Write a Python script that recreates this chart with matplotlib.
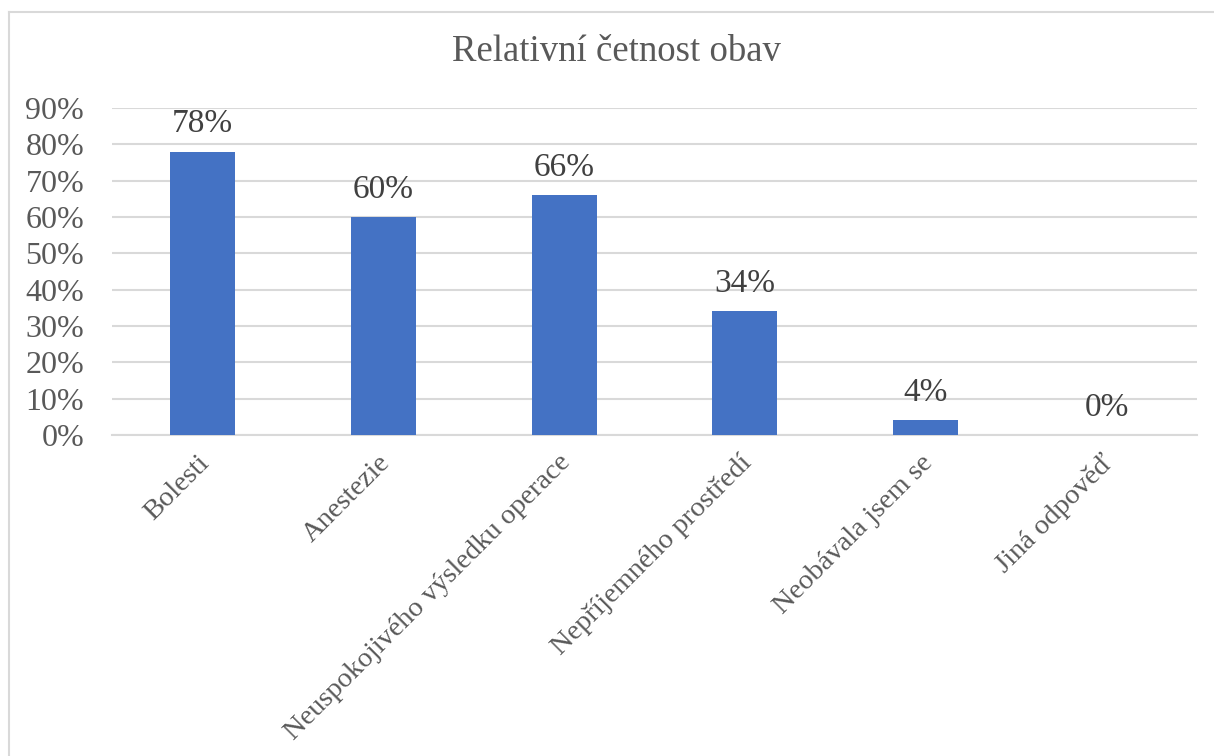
import matplotlib.pyplot as plt
from matplotlib.lines import Line2D
from matplotlib.ticker import PercentFormatter
from matplotlib.transforms import ScaledTranslation

# ── Data ─────────────────────────────────────────────────────────
categories = [
    'Bolesti',
    'Anestezie',
    'Neuspokojivého výsledku operace',
    'Nepříjemného prostředí',
    'Neobávala jsem se',
    'Jiná odpověď',
]
shares = [0.78, 0.60, 0.66, 0.34, 0.04, 0.00]
y_ticks = [0.0, 0.1, 0.2, 0.3, 0.4, 0.5, 0.6, 0.7, 0.8, 0.9]

# ── Style ────────────────────────────────────────────────────────
BAR_COLOR   = '#4472C4'
GRID_COLOR  = '#D9D9D9'
TICK_COLOR  = '#595959'
LABEL_COLOR = '#404040'

plt.rcParams['font.family'] = ['Liberation Serif', 'DejaVu Serif']

W, H = 1214, 756
fig = plt.figure(figsize=(W / 100, H / 100), dpi=100)
fig.patch.set_facecolor('white')

ax = fig.add_axes([112 / W, 1 - 435 / H, (1197 - 112) / W, (435 - 108) / H])

x = list(range(len(categories)))
ax.bar(x, shares, width=0.36, color=BAR_COLOR, zorder=3)

for xi, v in zip(x, shares):
    ax.annotate(f'{v * 100:.0f}%', (xi, v), xytext=(0, 14),
                textcoords='offset points', ha='center', va='baseline',
                fontsize=24, color=LABEL_COLOR)

ax.set_xlim(-0.5, len(categories) - 0.5)
ax.set_ylim(0, 0.9)
ax.set_yticks(y_ticks)
ax.yaxis.set_major_formatter(PercentFormatter(1.0, decimals=0))
ax.grid(axis='y', color=GRID_COLOR, linewidth=1.5, zorder=0)
ax.set_axisbelow(True)

for side in ['top', 'right', 'left']:
    ax.spines[side].set_visible(False)
ax.spines['bottom'].set_color(GRID_COLOR)
ax.spines['bottom'].set_linewidth(1.5)

ax.tick_params(axis='y', length=0, pad=20, labelsize=23, labelcolor=TICK_COLOR)
ax.tick_params(axis='x', length=0, pad=11, labelsize=20.5, labelcolor=TICK_COLOR)
ax.set_xticks(x)
ax.set_xticklabels(categories, rotation=45, ha='right', va='top',
                   rotation_mode='anchor')
shift = ScaledTranslation(-6 / 100, 0, fig.dpi_scale_trans)
for lbl in ax.get_xticklabels():
    lbl.set_transform(lbl.get_transform() + shift)

fig.text(616 / W, 1 - 52 / H, 'Relativní četnost obav',
         ha='center', va='center', fontsize=26.5, color=TICK_COLOR)

# chart frame (left and top edges visible in the original)
fig.add_artist(Line2D([9 / W, 9 / W], [0, 1 - 12 / H],
                      transform=fig.transFigure, color=GRID_COLOR, linewidth=1.5))
fig.add_artist(Line2D([9 / W, 1], [1 - 12 / H, 1 - 12 / H],
                      transform=fig.transFigure, color=GRID_COLOR, linewidth=1.5))

fig.savefig('out.png', dpi=100, facecolor='white')
